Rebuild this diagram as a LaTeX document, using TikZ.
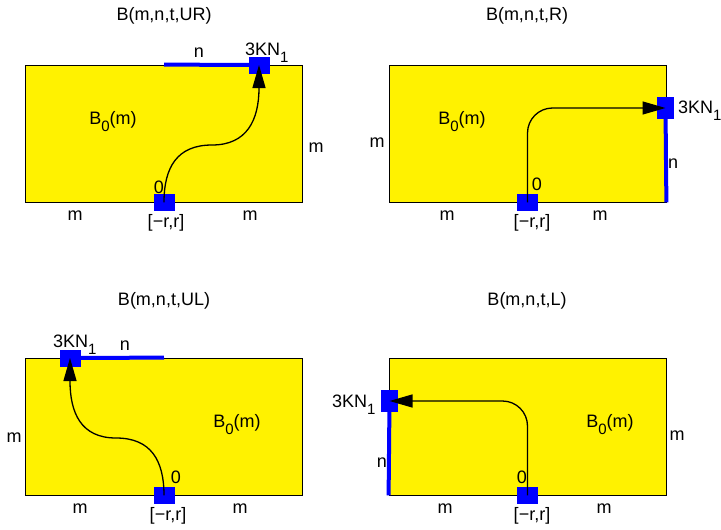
\documentclass[tikz,border=0pt]{standalone}
\usepackage{fontspec}
\setmainfont{Liberation Sans}
\usetikzlibrary{positioning, arrows.meta}
\newcommand{\idx}[1]{\raisebox{-7pt}{\fontsize{15}{15}\selectfont #1}}

\begin{document}
\begin{tikzpicture}[x=1pt, y=-1pt, every node/.style={font=\fontsize{18}{20}\selectfont},
  field/.style={rectangle, draw=black, fill=yellow, line width=0.8pt, minimum width=277pt, minimum height=137pt, inner sep=0pt},
  spot/.style={rectangle, fill=blue, inner sep=0pt, minimum width=21pt, minimum height=17pt},
  vspot/.style={spot, minimum width=17pt, minimum height=22pt},
  side/.style={blue, line width=4pt},
  route/.style={-{Triangle[length=23pt, width=13pt]}, line width=1.3pt},
  lbl/.style={anchor=base, inner sep=0pt}
]
    \useasboundingbox (0,0) rectangle (721,530);

    % B(m,n,t,UR)
    \node[field] (b1) at (164,133.5) {};
    \node[spot] (o1) at (b1.south) {};
    \node[spot] (e1) at (259,65) {};
    \draw[side] (b1.north) -- (e1.center);
    \draw[route] (o1.center) .. controls +(0,-35) and +(-35,0) .. (212,145)
                             .. controls +(35,0) and +(0,55) .. (e1.center);
    \node[lbl] at (164,20) {B(m,n,t,UR)};
    \node[lbl] at (199,57) {n};
    \node[lbl, anchor=base west] at (245,55) {3KN\idx{1}};
    \node[lbl] at (113,124) {B\idx{0}(m)};
    \node[lbl] at (316,152) {m};
    \node[lbl] at (159,193) {0};
    \node[lbl] at (166,227) {[−r,r]};
    \node[lbl] at (75,220) {m};
    \node[lbl] at (250,220) {m};

    % B(m,n,t,R)
    \node[field] (b2) at (527.5,133.5) {};
    \node[spot] (o2) at (b2.south) {};
    \node[vspot] (e2) at (665.5,108) {};
    \draw[side] (e2.center) -- (b2.south east);
    \draw[route, rounded corners=25pt] (o2.center) |- (e2.center);
    \node[lbl] at (527,20) {B(m,n,t,R)};
    \node[lbl] at (462,124) {B\idx{0}(m)};
    \node[lbl] at (377,147) {m};
    \node[lbl, anchor=base west] at (678,113) {3KN\idx{1}};
    \node[lbl] at (673,168) {n};
    \node[lbl] at (537,190) {0};
    \node[lbl] at (532,227) {[−r,r]};
    \node[lbl] at (447,220) {m};
    \node[lbl] at (600,220) {m};

    % B(m,n,t,UL)
    \node[field] (b3) at (164,426.5) {};
    \node[spot] (o3) at (b3.south) {};
    \node[spot] (e3) at (70,358) {};
    \draw[side] (e3.center) -- (b3.north);
    \draw[route] (o3.center) .. controls +(0,-35) and +(35,0) .. (116,438)
                             .. controls +(-35,0) and +(0,55) .. (e3.center);
    \node[lbl] at (164,305) {B(m,n,t,UL)};
    \node[lbl, anchor=base west] at (53,347) {3KN\idx{1}};
    \node[lbl] at (125,350) {n};
    \node[lbl] at (237,427) {B\idx{0}(m)};
    \node[lbl] at (14,442) {m};
    \node[lbl] at (176,483) {0};
    \node[lbl] at (168,520) {[−r,r]};
    \node[lbl] at (80,513) {m};
    \node[lbl] at (240,513) {m};

    % B(m,n,t,L)
    \node[field] (b4) at (527.5,426.5) {};
    \node[spot] (o4) at (b4.south) {};
    \node[vspot] (e4) at (389.5,401) {};
    \draw[side] (e4.center) -- (b4.south west);
    \draw[route, rounded corners=25pt] (o4.center) |- (e4.center);
    \node[lbl] at (527,305) {B(m,n,t,L)};
    \node[lbl, anchor=base west] at (332,407) {3KN\idx{1}};
    \node[lbl] at (382,467) {n};
    \node[lbl] at (610,427) {B\idx{0}(m)};
    \node[lbl] at (677,440) {m};
    \node[lbl] at (522,483) {0};
    \node[lbl] at (532,520) {[−r,r]};
    \node[lbl] at (445,513) {m};
    \node[lbl] at (604,513) {m};
\end{tikzpicture}
\end{document}
